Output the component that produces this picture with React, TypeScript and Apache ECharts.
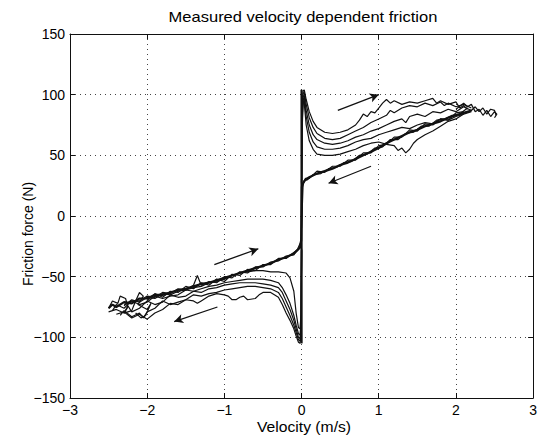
import React, { useEffect, useRef } from "react";
import * as echarts from "echarts";

type Pt = [number, number];

const TITLE = "Measured velocity dependent friction";
const X_NAME = "Velocity (m/s)";
const Y_NAME = "Friction force (N)";
const X_MIN = -3, X_MAX = 3, X_STEP = 1;
const Y_MIN = -150, Y_MAX = 150, Y_STEP = 50;

// stick-slip vertical at zero velocity
const ZERO_LINE: Pt[] = [[0, -105], [0, 104]];

// accelerating branches, positive velocity
const P1: Pt[] = [[0,28],[0.005,85],[0.02,103],[0.035,104],[0.06,96],[0.1,86],[0.15,78],[0.2,73],[0.3,69],[0.4,68],[0.5,69],[0.6,71],[0.7,75],[0.75,79],[0.8,84],[0.85,82],[0.9,86],[0.95,85],[1.0,89],[1.05,93],[1.1,96],[1.15,93],[1.2,95],[1.3,92],[1.4,94],[1.5,93],[1.6,95],[1.7,97],[1.75,93],[1.8,95],[1.9,92],[2.0,94],[2.05,89],[2.1,91],[2.15,88]];
const P2: Pt[] = [[0,28],[0.005,80],[0.02,101],[0.035,102],[0.06,92],[0.1,81],[0.15,73],[0.2,68],[0.3,64],[0.4,63],[0.5,64],[0.6,67],[0.7,70],[0.8,73],[0.9,77],[1.0,80],[1.1,83],[1.15,87],[1.2,85],[1.3,89],[1.4,91],[1.5,90],[1.6,93],[1.7,91],[1.8,94],[1.85,91],[1.9,93],[2.0,90],[2.1,92],[2.2,89]];
const P3: Pt[] = [[0,27],[0.005,75],[0.02,99],[0.035,99],[0.06,87],[0.1,75],[0.15,67],[0.2,63],[0.3,60],[0.4,59],[0.5,60],[0.6,62],[0.7,65],[0.8,67],[0.9,70],[1.0,72],[1.1,75],[1.2,78],[1.3,80],[1.35,77],[1.4,82],[1.5,84],[1.6,82],[1.7,86],[1.8,85],[1.9,88],[2.0,86],[2.1,90],[2.2,87],[2.25,90],[2.3,86],[2.35,89],[2.4,84],[2.45,88],[2.5,87],[2.52,83]];
const P4: Pt[] = [[0,27],[0.005,70],[0.02,97],[0.035,96],[0.06,82],[0.1,69],[0.15,61],[0.2,57],[0.3,55],[0.4,55],[0.5,56],[0.6,58],[0.7,61],[0.8,63],[0.9,64],[1.0,67],[1.1,69],[1.2,71],[1.3,73],[1.4,72],[1.5,75],[1.6,77],[1.7,76],[1.8,80],[1.9,79],[2.0,82],[2.1,84],[2.2,86]];
const P5: Pt[] = [[0,26],[0.005,65],[0.02,95],[0.035,93],[0.06,75],[0.1,62],[0.15,55],[0.2,51],[0.3,50],[0.4,50],[0.5,51],[0.6,53],[0.7,55],[0.8,58],[0.9,60],[1.0,61],[1.1,59],[1.2,58],[1.25,54],[1.3,56],[1.35,52],[1.4,55],[1.45,60],[1.5,63],[1.6,67],[1.7,70],[1.8,74],[1.9,78],[2.0,80],[2.1,84]];

// decelerating branches, positive velocity
const R1: Pt[] = [[2.2,87],[2.1,85],[2.0,83],[1.9,81],[1.8,78],[1.7,76],[1.6,74],[1.5,71],[1.4,69],[1.3,66],[1.2,63],[1.1,60],[1.0,56],[0.9,53],[0.8,50],[0.7,47],[0.6,44],[0.5,42],[0.4,39],[0.3,37],[0.2,35],[0.1,32],[0.05,30],[0.02,27],[0.005,24],[0,5]];
const R2: Pt[] = [[2.15,89],[2.05,84],[1.95,83],[1.85,80],[1.75,79],[1.65,74],[1.55,74],[1.45,69],[1.35,68],[1.25,63],[1.15,63],[1.05,57],[0.95,56],[0.85,51],[0.75,50],[0.65,45],[0.55,44],[0.45,40],[0.35,39],[0.25,35],[0.15,34],[0.08,30],[0.03,29],[0.01,25],[0,0]];
const R3: Pt[] = [[2.1,86],[2.0,85],[1.9,79],[1.8,80],[1.7,75],[1.6,76],[1.5,70],[1.4,71],[1.3,65],[1.2,65],[1.1,59],[1.0,58],[0.9,52],[0.8,52],[0.7,46],[0.6,46],[0.5,41],[0.4,41],[0.3,36],[0.2,37],[0.1,31],[0.05,31],[0.02,26],[0,-10]];
const RIGHT_TAIL: Pt[] = [[2.0,88],[2.1,93],[2.15,90],[2.2,92],[2.25,86],[2.3,88],[2.35,83],[2.4,87],[2.45,82],[2.5,86],[2.53,84],[2.5,81]];

// decelerating branches, negative velocity
const NR1: Pt[] = [[-2.5,-76],[-2.45,-73],[-2.4,-75],[-2.3,-71],[-2.2,-72],[-2.1,-68],[-2.0,-68],[-1.9,-65],[-1.8,-65],[-1.7,-63],[-1.6,-61],[-1.5,-60],[-1.4,-58],[-1.3,-56],[-1.2,-55],[-1.1,-53],[-1.0,-51],[-0.9,-49],[-0.8,-47],[-0.7,-45],[-0.6,-43],[-0.5,-41],[-0.4,-39],[-0.3,-36],[-0.2,-34],[-0.1,-31],[-0.05,-28],[-0.02,-26],[-0.005,-20],[0,5]];
const NR2: Pt[] = [[-2.3,-73],[-2.2,-70],[-2.1,-70],[-2.0,-66],[-1.9,-67],[-1.8,-63],[-1.7,-64],[-1.6,-60],[-1.5,-61],[-1.4,-57],[-1.35,-49],[-1.3,-57],[-1.2,-54],[-1.1,-55],[-1.0,-50],[-0.9,-51],[-0.8,-46],[-0.7,-47],[-0.6,-42],[-0.5,-42],[-0.4,-38],[-0.3,-37],[-0.2,-33],[-0.1,-32],[-0.05,-27],[0,-20]];
const NR3: Pt[] = [[-2.0,-70],[-1.9,-64],[-1.8,-67],[-1.7,-62],[-1.6,-63],[-1.5,-58],[-1.4,-60],[-1.3,-55],[-1.2,-57],[-1.1,-52],[-1.0,-54],[-0.9,-48],[-0.8,-49],[-0.7,-44],[-0.6,-45],[-0.5,-40],[-0.4,-40],[-0.3,-35],[-0.2,-35],[-0.1,-30],[0,-25]];
const LEFT_TAIL: Pt[] = [[-2.5,-76],[-2.45,-70],[-2.38,-72],[-2.35,-66],[-2.28,-68],[-2.25,-75],[-2.3,-80],[-2.2,-78],[-2.15,-70],[-2.1,-63],[-2.05,-66],[-2.12,-73],[-2.0,-77],[-1.95,-72],[-2.02,-82],[-2.08,-84],[-2.15,-80]];

// accelerating branches, negative velocity
const L1: Pt[] = [[0,-27],[-0.005,-80],[-0.02,-93],[-0.04,-92],[-0.07,-80],[-0.1,-62],[-0.15,-51],[-0.2,-47],[-0.3,-46],[-0.4,-46],[-0.5,-45],[-0.6,-45],[-0.7,-46],[-0.8,-47],[-0.9,-49],[-1.0,-52],[-1.1,-54],[-1.2,-55],[-1.3,-58],[-1.4,-59],[-1.5,-61],[-1.6,-62],[-1.7,-65],[-1.8,-64],[-1.9,-68],[-2.0,-67],[-2.1,-71],[-2.2,-69],[-2.3,-74]];
const L2: Pt[] = [[0,-27],[-0.005,-88],[-0.02,-98],[-0.04,-97],[-0.07,-90],[-0.1,-82],[-0.15,-72],[-0.2,-65],[-0.25,-59],[-0.3,-55],[-0.4,-53],[-0.5,-52],[-0.6,-52],[-0.7,-52],[-0.8,-53],[-0.9,-54],[-1.0,-55],[-1.1,-57],[-1.2,-58],[-1.3,-60],[-1.4,-62],[-1.5,-61],[-1.6,-65],[-1.7,-66],[-1.8,-68],[-1.9,-66],[-2.0,-71],[-2.1,-73],[-2.2,-70],[-2.3,-76],[-2.4,-73],[-2.45,-78]];
const L3: Pt[] = [[0,-28],[-0.005,-92],[-0.02,-101],[-0.04,-100],[-0.07,-93],[-0.1,-86],[-0.15,-77],[-0.2,-70],[-0.25,-63],[-0.3,-59],[-0.4,-57],[-0.5,-56],[-0.6,-55],[-0.7,-55],[-0.8,-55],[-0.9,-56],[-1.0,-57],[-1.1,-59],[-1.2,-60],[-1.3,-63],[-1.4,-62],[-1.5,-66],[-1.6,-67],[-1.7,-65],[-1.8,-71],[-1.9,-73],[-2.0,-70],[-2.1,-76],[-2.2,-79],[-2.25,-74],[-2.3,-80],[-2.4,-77],[-2.5,-79]];
const L4: Pt[] = [[0,-28],[-0.005,-95],[-0.02,-103],[-0.04,-102],[-0.07,-96],[-0.1,-90],[-0.15,-82],[-0.2,-75],[-0.25,-68],[-0.3,-63],[-0.4,-60],[-0.5,-59],[-0.6,-58],[-0.7,-58],[-0.8,-59],[-0.9,-60],[-1.0,-61],[-1.1,-63],[-1.2,-64],[-1.3,-66],[-1.4,-65],[-1.5,-69],[-1.6,-71],[-1.7,-73],[-1.8,-70],[-1.9,-76],[-2.0,-79],[-2.05,-84],[-2.1,-80],[-2.2,-83],[-2.3,-78],[-2.35,-82]];
const L5: Pt[] = [[0,-29],[-0.005,-98],[-0.02,-105],[-0.04,-104],[-0.07,-99],[-0.1,-93],[-0.15,-86],[-0.2,-80],[-0.25,-73],[-0.3,-67],[-0.4,-63],[-0.5,-63],[-0.55,-65],[-0.6,-68],[-0.7,-69],[-0.75,-66],[-0.8,-67],[-0.85,-69],[-0.9,-69],[-0.95,-66],[-1.0,-65],[-1.1,-64],[-1.2,-66],[-1.3,-70],[-1.35,-72],[-1.4,-70],[-1.5,-69],[-1.6,-73],[-1.7,-72],[-1.8,-77],[-1.9,-80],[-2.0,-85],[-2.1,-81],[-2.2,-84],[-2.3,-79],[-2.4,-81]];

// direction arrows: [from, to]
const ARROWS: [Pt, Pt][] = [
  [[0.47, 87], [1.0, 100]],
  [[0.9, 41], [0.35, 27]],
  [[-1.13, -40], [-0.56, -27]],
  [[-1.09, -75], [-1.65, -87]],
];

const THIN = [P1, P2, P3, P4, P5, R2, R3, RIGHT_TAIL, NR2, NR3, LEFT_TAIL, L1, L2, L3, L4, L5];
const THICK = [ZERO_LINE, R1, NR1];

const FONT = "'Liberation Sans', Arial, Helvetica, sans-serif";
const INK = "#111";

export default function App() {
  const ref = useRef<HTMLDivElement>(null);
  useEffect(() => {
    if (!ref.current) return;
    const chart = echarts.init(ref.current, undefined, { renderer: "svg" });
    const fmt = (v: number) => String(v).replace("-", "\u2212");
    const gl = { left: 70, right: 2, top: 34, bottom: 39 };
    const baseAxis = {
      axisLine: { show: true, onZero: false, lineStyle: { color: INK, width: 1 } },
      axisTick: { show: true, inside: true, length: 5, lineStyle: { color: INK } },
    };
    const lineSeries = (d: Pt[], w: number) => ({
      type: "line",
      data: d,
      showSymbol: false,
      symbol: "none",
      silent: true,
      lineStyle: { color: INK, width: w },
      z: 3,
    });
    const series: any[] = [
      ...THIN.map((d) => lineSeries(d, 1.2)),
      ...THICK.map((d) => lineSeries(d, 2.2)),
    ];
    series[0].markLine = {
      silent: true,
      symbol: ["none", "arrow"],
      symbolSize: [7, 9],
      label: { show: false },
      lineStyle: { color: INK, width: 1.3, type: "solid" },
      data: ARROWS.map(([a, b]) => [{ coord: a }, { coord: b }]),
    };
    const tickLabel = { color: "#000", fontSize: 14, fontFamily: FONT, margin: 5, formatter: fmt };
    chart.setOption({
      animation: false,
      backgroundColor: "#fff",
      grid: { ...gl, containLabel: false },
      xAxis: [
        {
          ...baseAxis,
          type: "value", min: X_MIN, max: X_MAX, interval: X_STEP, position: "bottom",
          axisLabel: tickLabel,
          splitLine: { show: true, lineStyle: { color: "#444", type: [1, 4], width: 1 } },
        },
        {
          ...baseAxis,
          type: "value", min: X_MIN, max: X_MAX, interval: X_STEP, position: "top",
          axisLabel: { show: false }, splitLine: { show: false },
        },
      ],
      yAxis: [
        {
          ...baseAxis,
          type: "value", min: Y_MIN, max: Y_MAX, interval: Y_STEP, position: "left",
          axisLabel: tickLabel,
          splitLine: { show: true, lineStyle: { color: "#444", type: [1, 4], width: 1 } },
        },
        {
          ...baseAxis,
          type: "value", min: Y_MIN, max: Y_MAX, interval: Y_STEP, position: "right",
          axisLabel: { show: false }, splitLine: { show: false },
        },
      ],
      graphic: [
        { type: "text", x: 303, y: 17, scaleX: 1.18, style: { text: TITLE, fill: "#000", font: `14px ${FONT}`, textAlign: "center", textVerticalAlign: "middle" } },
        { type: "text", x: 304, y: 427, scaleX: 1.12, style: { text: X_NAME, fill: "#000", font: `14px ${FONT}`, textAlign: "center", textVerticalAlign: "middle" } },
        { type: "text", x: 28, y: 234, rotation: Math.PI / 2, style: { text: Y_NAME, fill: "#000", font: `14px ${FONT}`, textAlign: "center", textVerticalAlign: "middle" } },
      ],
      series,
    });
    return () => chart.dispose();
  }, []);
  return <div ref={ref} style={{ width: 540, height: 437, position: "absolute", left: 0, top: 0 }} />;
}
